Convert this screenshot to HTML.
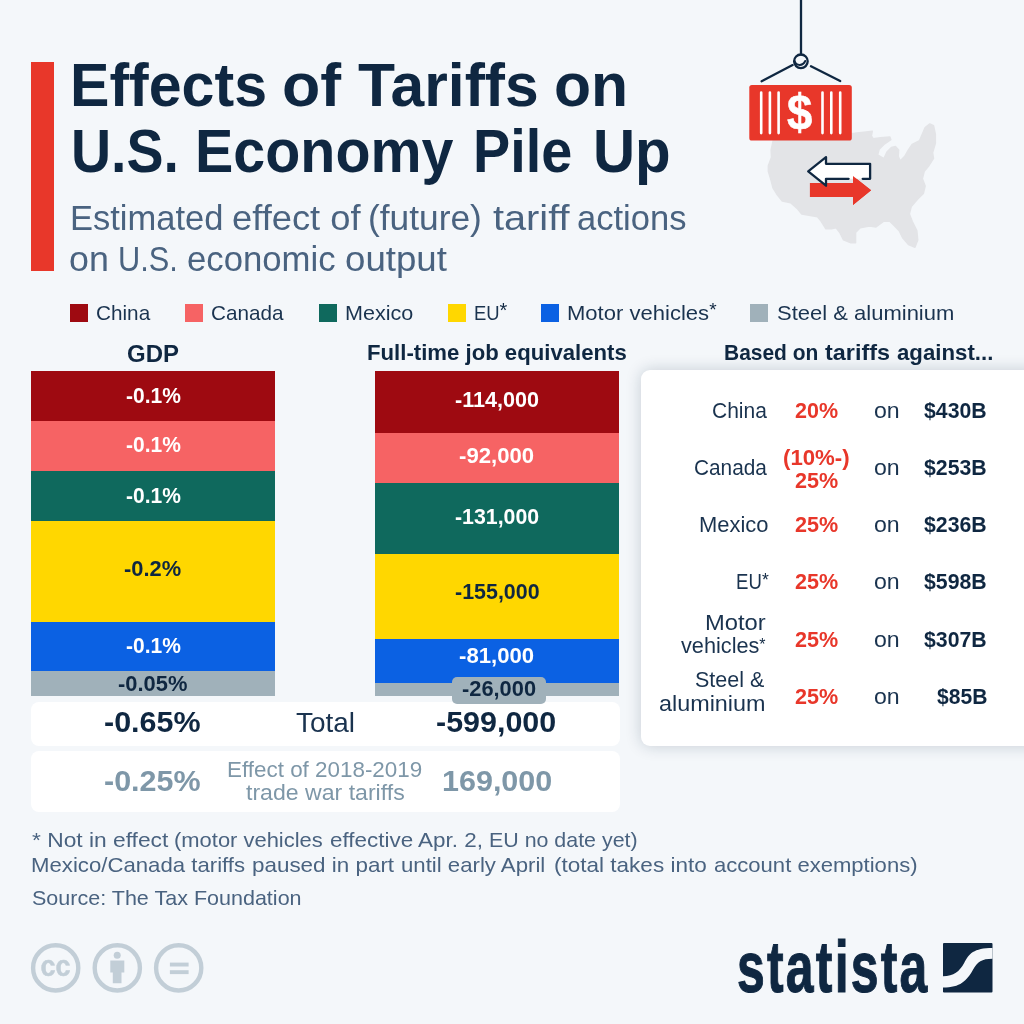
<!DOCTYPE html>
<html lang="en">
<head>
<meta charset="utf-8">
<title>Effects of Tariffs on U.S. Economy Pile Up</title>
<style>
html,body{margin:0;padding:0;}
body{width:1024px;height:1024px;overflow:hidden;background:#f4f7fa;font-family:"Liberation Sans",sans-serif;position:relative;}
.abs,.t,.seg,.sq,.box{position:absolute;}
.t{white-space:pre;line-height:1;transform-origin:0 0;display:block;}
.redbar{left:30.6px;top:62.3px;width:23.9px;height:208.8px;background:#e8372a;}
.sq{top:304px;width:18px;height:17.5px;}
.c1{background:#9e0a11;}.c2{background:#f66364;}.c3{background:#0f695d;}
.c4{background:#ffd700;}.c5{background:#0b61e3;}.c6{background:#a0b1ba;}
.gdp .seg{left:30.6px;width:244px;}
.job .seg{left:375px;width:243.9px;}
.box{background:#fff;border-radius:8px;left:30.6px;width:589.7px;}
.card{position:absolute;left:640.6px;top:370.4px;width:400px;height:375.6px;background:#fff;border-radius:9px;box-shadow:0 0 16px rgba(15,39,65,.2);}
.pill{position:absolute;left:451.8px;top:676.8px;width:93.8px;height:27.2px;border-radius:5px;background:#a0b1ba;}
.g{margin:0;padding:0;font-size:16px;font-weight:400;}
</style>
</head>
<body>
<div class="abs redbar"></div>

<!-- illustration -->
<svg class="abs" style="left:0;top:0" width="1024" height="280" viewBox="0 0 1024 280">
  <g transform="translate(760,110) scale(0.18557)">
    <path fill="#e3e4e7" stroke="#e3e4e7" stroke-width="8" stroke-linejoin="round" d="M80,130 L70,170 L60,215 L62,255 L45,300 L45,330 L60,380 L70,420 L95,460 L120,490 L165,500 L200,530 L225,560 L310,575 L330,600 L355,640 L385,640 L410,635 L430,660 L450,700 L490,715 L515,715 L515,660 L540,635 L590,625 L625,630 L665,600 L700,600 L720,620 L750,650 L770,690 L800,725 L835,740 L850,700 L845,650 L820,600 L805,560 L815,520 L850,480 L880,450 L890,410 L875,370 L885,330 L910,300 L935,260 L930,230 L945,180 L945,130 L935,85 L915,75 L890,95 L875,130 L860,165 L820,185 L800,215 L780,250 L755,275 L745,250 L747,215 L730,197 L708,202 L684,226 L668,262 L634,242 L642,212 L672,182 L705,160 L700,145 L650,150 L610,155 L600,140 L605,115 L560,120 L510,125 Z"/>
  </g>
  <!-- hook -->
  <g fill="none" stroke="#0f2741" stroke-width="2.3" stroke-linecap="round">
    <path d="M801,0 V54.5"/>
    <circle cx="800.9" cy="61.3" r="6.8"/>
    <path d="M794.6,61 C796.5,66.5 803,66 805.2,61" stroke-width="2"/>
    <path d="M761.6,81.2 L792.6,65.1 M811,66.3 L840.2,81"/>
  </g>
  <!-- container -->
  <rect x="749.3" y="85" width="102.5" height="55.6" rx="2.6" fill="#e8372a"/>
  <g fill="none" stroke="#fff" stroke-width="2.6" stroke-linecap="round">
    <path d="M761.2,92.6 V133.1 M769.9,92.6 V133.1 M778.6,92.6 V133.1 M822.5,92.6 V133.1 M831.3,92.6 V133.1 M840.2,92.6 V133.1"/>
  </g>
  <text transform="translate(799.6,129.3) scale(0.92,1)" text-anchor="middle" font-family="Liberation Sans, sans-serif" font-weight="700" font-size="49.5" fill="#fff" stroke="#fff" stroke-width="0.6">$</text>
  <!-- arrows -->
  <path d="M809.9,183.1 H853 V176.1 L871.1,190.2 L853,204.9 V196.9 H809.9 Z" fill="#e8372a"/>
  <path d="M808.2,171.3 L826,157.1 V163.8 H870.1 V178.8 H826 V185.7 Z" fill="#fff"/>
  <path d="M862.7,178.8 H870.1 V163.8 H826 V157.1 L808.2,171.3 L826,185.7 V178.8 H848.6" fill="none" stroke="#0f2741" stroke-width="2.3" stroke-linejoin="round" stroke-linecap="round"/>
  <path d="M853,176.1 L871.1,190.2 L853,204.9 Z" fill="#e8372a"/>
</svg>

<!-- legend -->
<div class="sq c1" style="left:70px"></div>
<div class="sq c2" style="left:185px"></div>
<div class="sq c3" style="left:318.8px"></div>
<div class="sq c4" style="left:448.1px"></div>
<div class="sq c5" style="left:541.2px"></div>
<div class="sq c6" style="left:750.3px"></div>

<!-- GDP bar -->
<div class="gdp">
  <div class="seg c1" style="top:370.8px;height:50.5px"></div>
  <div class="seg c2" style="top:421.2px;height:50.3px"></div>
  <div class="seg c3" style="top:471.3px;height:50px"></div>
  <div class="seg c4" style="top:521.1px;height:100.8px"></div>
  <div class="seg c5" style="top:621.7px;height:49.8px"></div>
  <div class="seg c6" style="top:671.3px;height:25.1px"></div>
</div>
<!-- Jobs bar -->
<div class="job">
  <div class="seg c1" style="top:370.8px;height:62.4px"></div>
  <div class="seg c2" style="top:433px;height:50.1px"></div>
  <div class="seg c3" style="top:482.9px;height:71.3px"></div>
  <div class="seg c4" style="top:554px;height:84.8px"></div>
  <div class="seg c5" style="top:638.6px;height:44.2px"></div>
  <div class="seg c6" style="top:682.6px;height:13.8px"></div>
</div>
<div class="box" style="top:702px;height:43.7px"></div>
<div class="box" style="top:751.2px;height:60.7px"></div>
<div class="pill"></div>
<div class="card"></div>

<h1 class="g title">
  <span class="t" style="left:69.89px;top:54px;font-size:62.0px;font-weight:700;transform:scaleX(0.9528);color:#0f2741;">Effects</span>
  <span class="t" style="left:282.48px;top:54px;font-size:62.0px;font-weight:700;transform:scaleX(1.0110);color:#0f2741;">of</span>
  <span class="t" style="left:358.00px;top:54px;font-size:62.0px;font-weight:700;transform:scaleX(0.9773);color:#0f2741;">Tariffs</span>
  <span class="t" style="left:554.29px;top:54px;font-size:62.0px;font-weight:700;transform:scaleX(0.9785);color:#0f2741;">on</span>
  <span class="t" style="left:71.01px;top:120px;font-size:62.0px;font-weight:700;transform:scaleX(0.8959);color:#0f2741;">U.S.</span>
  <span class="t" style="left:195.30px;top:120px;font-size:62.0px;font-weight:700;transform:scaleX(0.9262);color:#0f2741;">Economy</span>
  <span class="t" style="left:472.65px;top:120px;font-size:62.0px;font-weight:700;transform:scaleX(0.8993);color:#0f2741;">Pile</span>
  <span class="t" style="left:593.43px;top:120px;font-size:62.0px;font-weight:700;transform:scaleX(0.9405);color:#0f2741;">Up</span>
</h1>
<p class="g subtitle">
  <span class="t" style="left:69.75px;top:201px;font-size:34.5px;font-weight:400;transform:scaleX(1.0003);color:#4a6380;">Estimated</span>
  <span class="t" style="left:232.20px;top:201px;font-size:34.5px;font-weight:400;transform:scaleX(1.0532);color:#4a6380;">effect of</span>
  <span class="t" style="left:368.45px;top:201px;font-size:34.5px;font-weight:400;transform:scaleX(1.0236);color:#4a6380;">(future)</span>
  <span class="t" style="left:492.50px;top:201px;font-size:34.5px;font-weight:400;transform:scaleX(1.1512);color:#4a6380;">tariff</span>
  <span class="t" style="left:576.50px;top:201px;font-size:34.5px;font-weight:400;transform:scaleX(1.0013);color:#4a6380;">actions</span>
  <span class="t" style="left:68.96px;top:242px;font-size:34.5px;font-weight:400;transform:scaleX(1.0373);color:#4a6380;">on</span>
  <span class="t" style="left:117.72px;top:242px;font-size:34.5px;font-weight:400;transform:scaleX(0.8918);color:#4a6380;">U.S.</span>
  <span class="t" style="left:186.74px;top:242px;font-size:34.5px;font-weight:400;transform:scaleX(1.0058);color:#4a6380;">economic</span>
  <span class="t" style="left:345.19px;top:242px;font-size:34.5px;font-weight:400;transform:scaleX(1.0621);color:#4a6380;">output</span>
</p>
<div class="g legend">
  <span class="t" style="left:95.51px;top:302px;font-size:21.0px;font-weight:400;transform:scaleX(0.9873);color:#1a334f;">China</span>
  <span class="t" style="left:210.51px;top:302px;font-size:21.0px;font-weight:400;transform:scaleX(0.9851);color:#1a334f;">Canada</span>
  <span class="t" style="left:344.97px;top:302px;font-size:21.0px;font-weight:400;transform:scaleX(1.0272);color:#1a334f;">Mexico</span>
  <span class="t" style="left:473.82px;top:302px;font-size:21.0px;font-weight:400;transform:scaleX(0.8776);color:#1a334f;">EU</span>
  <span class="t" style="left:566.95px;top:302px;font-size:21.0px;font-weight:400;transform:scaleX(1.0494);color:#1a334f;">Motor vehicles</span>
  <span class="t" style="left:777.00px;top:302px;font-size:21.0px;font-weight:400;transform:scaleX(1.0477);color:#1a334f;">Steel &amp; aluminium</span>
</div>
<div class="g headers">
  <span class="t" style="left:126.77px;top:342px;font-size:24.5px;font-weight:700;transform:scaleX(0.9787);color:#0f2741;">GDP</span>
  <span class="t" style="left:366.79px;top:342px;font-size:22.0px;font-weight:700;transform:scaleX(1.0071);color:#0f2741;">Full-time job equivalents</span>
  <span class="t" style="left:723.85px;top:342px;font-size:22.0px;font-weight:700;transform:scaleX(0.9530);color:#0f2741;">Based on</span>
  <span class="t" style="left:825.10px;top:342px;font-size:22.0px;font-weight:700;transform:scaleX(1.0626);color:#0f2741;">tariffs</span>
  <span class="t" style="left:897.40px;top:342px;font-size:22.0px;font-weight:700;transform:scaleX(1.0101);color:#0f2741;">against...</span>
</div>
<div class="g bar-labels">
  <span class="t" style="left:125.50px;top:385px;font-size:22.0px;font-weight:700;transform:scaleX(0.9542);color:#ffffff;">-0.1%</span>
  <span class="t" style="left:125.50px;top:434px;font-size:22.0px;font-weight:700;transform:scaleX(0.9542);color:#ffffff;">-0.1%</span>
  <span class="t" style="left:125.50px;top:485px;font-size:22.0px;font-weight:700;transform:scaleX(0.9542);color:#ffffff;">-0.1%</span>
  <span class="t" style="left:124.20px;top:558px;font-size:22.0px;font-weight:700;transform:scaleX(0.9946);color:#0f2741;">-0.2%</span>
  <span class="t" style="left:125.50px;top:635px;font-size:22.0px;font-weight:700;transform:scaleX(0.9542);color:#ffffff;">-0.1%</span>
  <span class="t" style="left:118.10px;top:673px;font-size:22.0px;font-weight:700;transform:scaleX(0.9950);color:#0f2741;">-0.05%</span>
  <span class="t" style="left:454.90px;top:389px;font-size:22.0px;font-weight:700;transform:scaleX(0.9824);color:#ffffff;">-114,000</span>
  <span class="t" style="left:459.40px;top:445px;font-size:22.0px;font-weight:700;transform:scaleX(1.0070);color:#ffffff;">-92,000</span>
  <span class="t" style="left:454.90px;top:506px;font-size:22.0px;font-weight:700;transform:scaleX(0.9687);color:#ffffff;">-131,000</span>
  <span class="t" style="left:454.90px;top:581px;font-size:22.0px;font-weight:700;transform:scaleX(0.9744);color:#0f2741;">-155,000</span>
  <span class="t" style="left:459.40px;top:645px;font-size:22.0px;font-weight:700;transform:scaleX(1.0070);color:#ffffff;">-81,000</span>
  <span class="t" style="left:461.50px;top:678px;font-size:22.0px;font-weight:700;transform:scaleX(0.9922);color:#0f2741;">-26,000</span>
</div>
<div class="g totals">
  <span class="t" style="left:104.27px;top:707px;font-size:29.5px;font-weight:700;transform:scaleX(1.0332);color:#0f2741;">-0.65%</span>
  <span class="t" style="left:295.90px;top:709px;font-size:27.5px;font-weight:400;transform:scaleX(1.0162);color:#1a334f;">Total</span>
  <span class="t" style="left:436.47px;top:707px;font-size:29.5px;font-weight:700;transform:scaleX(1.0326);color:#0f2741;">-599,000</span>
  <span class="t" style="left:104.27px;top:766px;font-size:29.5px;font-weight:700;transform:scaleX(1.0332);color:#7e97a8;">-0.25%</span>
  <span class="t" style="left:227.06px;top:760px;font-size:21.5px;font-weight:400;transform:scaleX(1.0425);color:#7e97a8;">Effect of 2018-2019</span>
  <span class="t" style="left:245.90px;top:783px;font-size:21.5px;font-weight:400;transform:scaleX(1.0740);color:#7e97a8;">trade war tariffs</span>
  <span class="t" style="left:441.77px;top:766px;font-size:29.5px;font-weight:700;transform:scaleX(1.0339);color:#7e97a8;">169,000</span>
</div>
<div class="g tariff-table">
  <span class="t" style="left:712.34px;top:400px;font-size:22.0px;font-weight:400;transform:scaleX(0.9555);color:#1a334f;">China</span>
  <span class="t" style="left:694.35px;top:457px;font-size:22.0px;font-weight:400;transform:scaleX(0.9463);color:#1a334f;">Canada</span>
  <span class="t" style="left:698.80px;top:514px;font-size:22.0px;font-weight:400;transform:scaleX(0.9978);color:#1a334f;">Mexico</span>
  <span class="t" style="left:735.76px;top:571px;font-size:22.0px;font-weight:400;transform:scaleX(0.8440);color:#1a334f;">EU</span>
  <span class="t" style="left:704.52px;top:612px;font-size:22.0px;font-weight:400;transform:scaleX(1.0800);color:#1a334f;">Motor</span>
  <span class="t" style="left:680.50px;top:635px;font-size:22.0px;font-weight:400;transform:scaleX(0.9864);color:#1a334f;">vehicles</span>
  <span class="t" style="left:695.27px;top:669px;font-size:22.0px;font-weight:400;transform:scaleX(0.9771);color:#1a334f;">Steel &amp;</span>
  <span class="t" style="left:659.40px;top:693px;font-size:22.0px;font-weight:400;transform:scaleX(1.0624);color:#1a334f;">aluminium</span>
  <span class="t" style="left:795.40px;top:400px;font-size:22.0px;font-weight:700;transform:scaleX(0.9777);color:#e8372a;">20%</span>
  <span class="t" style="left:782.89px;top:447px;font-size:22.0px;font-weight:700;transform:scaleX(1.0095);color:#e8372a;">(10%-)</span>
  <span class="t" style="left:795.40px;top:470px;font-size:22.0px;font-weight:700;transform:scaleX(0.9800);color:#e8372a;">25%</span>
  <span class="t" style="left:795.40px;top:514px;font-size:22.0px;font-weight:700;transform:scaleX(0.9800);color:#e8372a;">25%</span>
  <span class="t" style="left:795.40px;top:571px;font-size:22.0px;font-weight:700;transform:scaleX(0.9800);color:#e8372a;">25%</span>
  <span class="t" style="left:795.40px;top:629px;font-size:22.0px;font-weight:700;transform:scaleX(0.9800);color:#e8372a;">25%</span>
  <span class="t" style="left:795.40px;top:686px;font-size:22.0px;font-weight:700;transform:scaleX(0.9800);color:#e8372a;">25%</span>
  <span class="t" style="left:874.40px;top:400px;font-size:22.0px;font-weight:400;transform:scaleX(1.0501);color:#1a334f;">on</span>
  <span class="t" style="left:874.40px;top:457px;font-size:22.0px;font-weight:400;transform:scaleX(1.0501);color:#1a334f;">on</span>
  <span class="t" style="left:874.40px;top:514px;font-size:22.0px;font-weight:400;transform:scaleX(1.0501);color:#1a334f;">on</span>
  <span class="t" style="left:874.40px;top:571px;font-size:22.0px;font-weight:400;transform:scaleX(1.0501);color:#1a334f;">on</span>
  <span class="t" style="left:874.40px;top:629px;font-size:22.0px;font-weight:400;transform:scaleX(1.0501);color:#1a334f;">on</span>
  <span class="t" style="left:874.40px;top:686px;font-size:22.0px;font-weight:400;transform:scaleX(1.0501);color:#1a334f;">on</span>
  <span class="t" style="left:924.40px;top:400px;font-size:22.0px;font-weight:700;transform:scaleX(0.9665);color:#0f2741;">$430B</span>
  <span class="t" style="left:924.40px;top:457px;font-size:22.0px;font-weight:700;transform:scaleX(0.9665);color:#0f2741;">$253B</span>
  <span class="t" style="left:924.40px;top:514px;font-size:22.0px;font-weight:700;transform:scaleX(0.9665);color:#0f2741;">$236B</span>
  <span class="t" style="left:924.40px;top:571px;font-size:22.0px;font-weight:700;transform:scaleX(0.9665);color:#0f2741;">$598B</span>
  <span class="t" style="left:924.40px;top:629px;font-size:22.0px;font-weight:700;transform:scaleX(0.9665);color:#0f2741;">$307B</span>
  <span class="t" style="left:936.60px;top:686px;font-size:22.0px;font-weight:700;transform:scaleX(0.9593);color:#0f2741;">$85B</span>
</div>
<div class="g footnotes">
  <span class="t" style="left:31.90px;top:829px;font-size:21.0px;font-weight:400;transform:scaleX(1.0846);color:#4a6380;">* Not in effect</span>
  <span class="t" style="left:174.26px;top:829px;font-size:21.0px;font-weight:400;transform:scaleX(1.0449);color:#4a6380;">(motor vehicles</span>
  <span class="t" style="left:330.30px;top:829px;font-size:21.0px;font-weight:400;transform:scaleX(1.0678);color:#4a6380;">effective Apr. 2,</span>
  <span class="t" style="left:488.68px;top:829px;font-size:21.0px;font-weight:400;transform:scaleX(1.0183);color:#4a6380;">EU no date yet)</span>
  <span class="t" style="left:31.44px;top:854px;font-size:21.0px;font-weight:400;transform:scaleX(1.0561);color:#4a6380;">Mexico/Canada tariffs</span>
  <span class="t" style="left:251.73px;top:854px;font-size:21.0px;font-weight:400;transform:scaleX(1.0676);color:#4a6380;">paused in part</span>
  <span class="t" style="left:400.84px;top:854px;font-size:21.0px;font-weight:400;transform:scaleX(1.0562);color:#4a6380;">until early April</span>
  <span class="t" style="left:553.93px;top:854px;font-size:21.0px;font-weight:400;transform:scaleX(1.0723);color:#4a6380;">(total takes into</span>
  <span class="t" style="left:713.75px;top:854px;font-size:21.0px;font-weight:400;transform:scaleX(1.0504);color:#4a6380;">account exemptions)</span>
  <span class="t" style="left:31.60px;top:887px;font-size:21.0px;font-weight:400;transform:scaleX(1.0247);color:#4a6380;">Source: The Tax Foundation</span>
</div>
<div class="g logo">
  <span class="t" style="left:736.81px;top:931px;font-size:72px;font-weight:700;transform:scaleX(0.6933);color:#0f2741;-webkit-text-stroke:1.1px #0f2741;letter-spacing:3.2px;">statista</span>
</div>
<div class="g marks">
  <span class="t" style="left:499.43px;top:300px;font-size:20.0px;color:#0f2741;">*</span>
  <span class="t" style="left:709.29px;top:300px;font-size:19.0px;color:#0f2741;">*</span>
  <span class="t" style="left:761.92px;top:572px;font-size:17.5px;color:#0f2741;">*</span>
  <span class="t" style="left:759.34px;top:637px;font-size:16.0px;color:#0f2741;">*</span>
</div>

<!-- cc icons -->
<svg class="abs" style="left:20px;top:930px" width="200" height="76" viewBox="20 930 200 76">
  <g fill="none" stroke="#c2ced7" stroke-width="4.4">
    <circle cx="55.7" cy="967.9" r="22.6"/>
    <circle cx="117.3" cy="967.9" r="22.6"/>
    <circle cx="178.7" cy="967.9" r="22.6"/>
  </g>
  <text transform="translate(55.4,975.6) scale(0.9,1)" text-anchor="middle" font-family="Liberation Sans, sans-serif" font-weight="700" font-size="30" fill="#c2ced7" stroke="#c2ced7" stroke-width="0.5">cc</text>
  <g fill="#c2ced7">
    <circle cx="117.2" cy="955.3" r="3.5"/>
    <path d="M110.3,960.4 h14 v12.2 h-2.8 v10.7 h-8.7 v-10.7 h-2.5 z"/>
    <rect x="169.9" y="962.6" width="18.7" height="3.9"/>
    <rect x="169.9" y="970.2" width="18.7" height="3.9"/>
  </g>
</svg>

<!-- statista logo -->
<!--LOGO-->
<svg class="abs" style="left:943.4px;top:943.4px" width="49.5" height="49.5" viewBox="0 0 100 100">
  <rect width="100" height="100" rx="2" fill="#0f2741"/>
  <path d="M0,67 C22,67 33,58 43,40 C52,22 62,10 100,10 L100,32 C78,32 70,38 60,55 C48,76 35,90 0,90 Z" fill="#f4f7fa"/>
</svg>

</body>
</html>
